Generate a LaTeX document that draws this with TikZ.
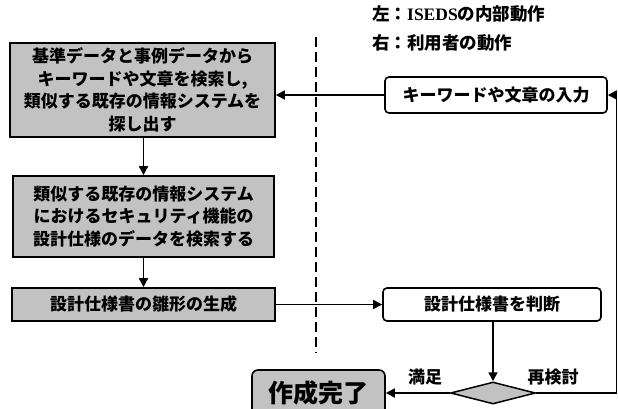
\documentclass[tikz,border=0pt]{standalone}
\usepackage{fontspec}
\setmainfont{Noto Sans CJK JP}
\newfontfamily\latinserif{Liberation Serif}
\usetikzlibrary{arrows.meta,shapes.geometric}
\begin{document}
\begin{tikzpicture}[x=1pt,y=-1pt,
  boxfont/.style={font=\fontsize{17}{22.5}\selectfont\bfseries},
  lbox/.style={draw, line width=1.6pt, fill=black!24, inner sep=0pt, align=center, boxfont},
  rbox/.style={draw, line width=1.6pt, fill=white, rounded corners=4pt, inner sep=0pt, align=center, boxfont},
  conn/.style={line width=1.7pt, -{Triangle[length=9pt,width=9pt]}},
  lbl/.style={font=\fontsize{17}{19}\selectfont\bfseries, inner sep=0pt},
  legend/.style={font=\fontsize{17.5}{19}\selectfont\bfseries, anchor=west, inner sep=0pt},
  divider/.style={line width=1.4pt, dash pattern=on 10pt off 5pt}
]
\useasboundingbox (0,0) rectangle (618,408);

% legend
\node[legend] (leg1) at (372,14) {左：{\latinserif\bfseries ISEDS}の内部動作};
\node[legend] (leg2) at (372,43) {右：利用者の動作};

% divider
\coordinate (dtop) at (316,37);
\coordinate (dbot) at (316,353);
\draw[divider] (dtop) -- (dbot);

% left column
\node[lbox, minimum width=265pt, minimum height=94pt] (b1) at (142.5,90)
  {基準データと事例データから\\キーワードや文章を検索し,\\類似する既存の情報システムを\\探し出す};
\node[lbox, minimum width=261pt, minimum height=81pt] (b2) at (143.5,216.5)
  {類似する既存の情報システム\\におけるセキュリティ機能の\\設計仕様のデータを検索する};
\node[lbox, minimum width=263pt, minimum height=33pt] (b3) at (143.5,304.5)
  {設計仕様書の雛形の生成};

% right column
\node[rbox, minimum width=222pt, minimum height=36pt] (in) at (496,95)
  {キーワードや文章の入力};
\node[rbox, minimum width=218pt, minimum height=33pt] (judge) at (492,304.5)
  {設計仕様書を判断};
\node[diamond, draw, line width=1.5pt, fill=black!24, minimum width=85pt, minimum height=22pt, inner sep=0pt] (dia) at (493,393) {};
\node[draw, line width=1.6pt, fill=black!24, rounded corners=6pt, minimum width=133pt, minimum height=46pt, inner sep=0pt,
  font=\fontsize{25}{28}\selectfont\bfseries] (done) at (318.5,393) {作成完了};

\node[lbl] (sat) at (425,377) {満足};
\node[lbl] (re) at (553,377) {再検討};

% connectors
\draw[conn] (in.west) -- (b1.east |- in.west);
\draw[conn] (b1.south -| b2.north) -- (b2.north);
\draw[conn] (b2.south) -- (b3.north);
\draw[conn] (b3.east) -- (judge.west |- b3.east);
\draw[conn] (judge.south -| dia.north) -- (dia.north);
\draw[conn] (dia.west) -- (done.east |- dia.west);
\coordinate (rc) at (616.5,0);
\draw[conn] (dia.east) -- (dia.east -| rc) -- (rc |- in.east) -- (in.east);
\end{tikzpicture}
\end{document}
